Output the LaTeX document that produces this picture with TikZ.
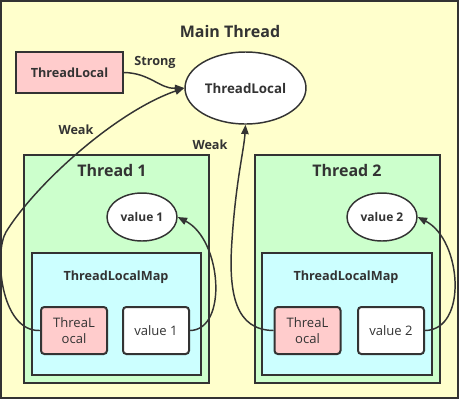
\documentclass[tikz,border=0pt]{standalone}
\usepackage{fontspec}
\setmainfont{Open Sans}
\usetikzlibrary{shapes.geometric,arrows.meta}

\definecolor{lineGray}{RGB}{51,51,51}
\definecolor{mainYellow}{RGB}{255,255,204}
\definecolor{threadGreen}{RGB}{204,255,204}
\definecolor{mapCyan}{RGB}{204,255,255}
\definecolor{refPink}{RGB}{255,204,204}

\tikzset{every picture/.style={line width=0.75pt}}
\tikzset{
  frame/.style={draw=lineGray, line width=1.5pt},
  entry/.style={draw=lineGray, line width=1.5pt, rounded corners=2.5pt, minimum width=49.5pt, minimum height=35.25pt, inner sep=0pt, align=center, font=\fontsize{9.8}{12}\selectfont},
  oval/.style={ellipse, draw=lineGray, line width=1.1pt, fill=white, inner sep=0pt},
  title/.style={font=\fontsize{12}{14}\selectfont\bfseries},
  tag/.style={font=\fontsize{9.5}{11}\selectfont\bfseries},
  link/.style={draw=lineGray, line width=1.1pt, -{Triangle[length=7pt,width=5.5pt]}},
}

\begin{document}
\begin{tikzpicture}[x=0.75pt,y=0.75pt,yscale=-1,xscale=1, color=lineGray]
\useasboundingbox (0,0) rectangle (460,401);

%Shape: Rectangle [main thread]
\draw [frame, fill=mainYellow] (1,1) rectangle (458,398);
%Shape: Rectangle [thread 1]
\draw [frame, fill=threadGreen] (24,155) rectangle (209,383);
%Shape: Rectangle [thread 2]
\draw [frame, fill=threadGreen] (255,155) rectangle (440,383);
%Shape: Rectangle [map 1]
\draw [frame, fill=mapCyan] (32,253) rectangle (201,375);
%Shape: Rectangle [map 2]
\draw [frame, fill=mapCyan] (262,253) rectangle (432,375);

%Shape: Rectangle [strong reference]
\node [frame, fill=refPink, minimum width=80.25pt, minimum height=30.75pt, inner sep=0pt, tag] (tlRef) at (69.5,72.5) {ThreadLocal};
%Shape: Ellipse
\node [oval, minimum width=90.75pt, minimum height=54pt, font=\fontsize{10}{12}\selectfont\bfseries] (tlMain) at (245.5,88) {ThreadLocal};
%Shape: Ellipse
\node [oval, minimum width=52.5pt, minimum height=36pt, font=\fontsize{9}{11}\selectfont\bfseries] (valOne) at (142,217) {value 1};
%Shape: Ellipse
\node [oval, minimum width=52.5pt, minimum height=36pt, font=\fontsize{9}{11}\selectfont\bfseries] (valTwo) at (382,217) {value 2};
%Shape: Rounded Rectangle
\node [entry, fill=refPink] (keyOne) at (74,330.5) {ThreaL\\ocal};
%Shape: Rounded Rectangle
\node [entry, fill=white] (entryOne) at (156,330.5) {value 1};
%Shape: Rounded Rectangle
\node [entry, fill=refPink] (keyTwo) at (307.5,330.5) {ThreaL\\ocal};
%Shape: Rounded Rectangle
\node [entry, fill=white] (entryTwo) at (391,330.5) {value 2};

%Curve Lines
\draw [link] (tlRef.east) .. controls (150,73) and (160,89) .. (tlMain.west);
%Curve Lines
\draw [link] (keyOne.west) .. controls (0,332) and (-6,252) .. (6,232) .. controls (35,185) and (115,112) .. (tlMain.west);
%Curve Lines
\draw [link] (keyTwo.west) .. controls (236,330) and (228,295) .. (232,240) .. controls (236,180) and (244,150) .. (tlMain.south);
%Curve Lines
\draw [link] (entryOne.east) .. controls (228,330) and (222,240) .. (valOne.east);
%Curve Lines
\draw [link] (entryTwo.east) .. controls (468,330) and (462,240) .. (valTwo.east);

% Text Node
\node [title] (mainTitle) at (230,31) {Main Thread};
% Text Node
\node [title] (threadOneTitle) at (112,170) {Thread 1};
% Text Node
\node [title] (threadTwoTitle) at (347,170) {Thread 2};
% Text Node
\node [tag] (mapOneTitle) at (116,277) {ThreadLocalMap};
% Text Node
\node [tag] (mapTwoTitle) at (346,277) {ThreadLocalMap};
% Text Node
\node [tag] (strongLabel) at (155,62) {Strong};
% Text Node
\node [tag] (weakOneLabel) at (76,130) {Weak};
% Text Node
\node [tag] (weakTwoLabel) at (210,145) {Weak};

\end{tikzpicture}
\end{document}
